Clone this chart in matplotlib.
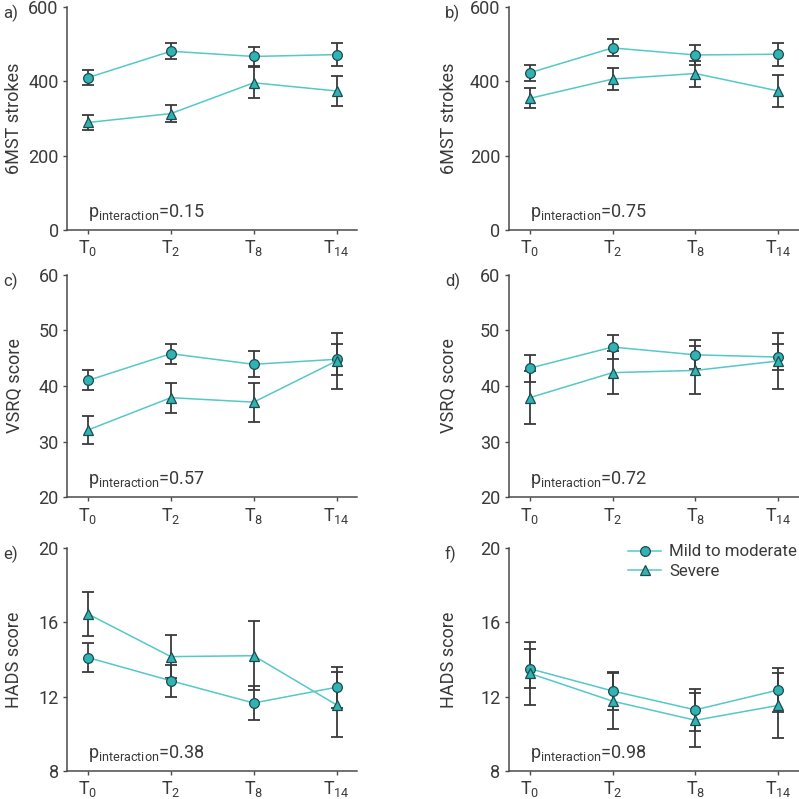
import matplotlib
matplotlib.use("Agg")
import matplotlib.pyplot as plt

plt.rcParams["font.family"] = ["Roboto", "DejaVu Sans"]
plt.rcParams["mathtext.fontset"] = "custom"
plt.rcParams["mathtext.rm"] = "Roboto"

timepoints = ["$\\mathregular{T_0}$", "$\\mathregular{T_2}$", "$\\mathregular{T_8}$", "$\\mathregular{T_{14}}$"]
groups = ["Mild to moderate", "Severe"]

# 6MST strokes
mst_a_mild = [410, 481, 467, 472]
mst_a_mild_err = [20, 21, 26, 32]
mst_a_severe = [289, 313, 396, 374]
mst_a_severe_err = [19, 23, 42, 41]
mst_b_mild = [423, 490, 471, 473]
mst_b_mild_err = [22, 23, 26, 31]
mst_b_severe = [354, 406, 421, 374]
mst_b_severe_err = [27, 29, 35, 42]

# VSRQ score
vsrq_c_mild = [41.0, 45.8, 43.9, 44.8]
vsrq_c_mild_err = [1.8, 1.8, 2.3, 2.8]
vsrq_c_severe = [32.1, 37.9, 37.1, 44.5]
vsrq_c_severe_err = [2.5, 2.7, 3.5, 5.0]
vsrq_d_mild = [43.2, 47.0, 45.6, 45.2]
vsrq_d_mild_err = [2.4, 2.1, 2.6, 2.4]
vsrq_d_severe = [37.9, 42.4, 42.8, 44.5]
vsrq_d_severe_err = [4.8, 3.8, 4.3, 5.1]

# HADS score
hads_e_mild = [14.1, 12.85, 11.65, 12.5]
hads_e_mild_err = [0.8, 0.85, 0.9, 1.1]
hads_e_severe = [16.45, 14.15, 14.2, 11.55]
hads_e_severe_err = [1.2, 1.15, 1.85, 1.75]
hads_f_mild = [13.5, 12.3, 11.28, 12.35]
hads_f_mild_err = [1.05, 1.0, 1.15, 1.2]
hads_f_severe = [13.25, 11.75, 10.72, 11.52]
hads_f_severe_err = [1.7, 1.5, 1.45, 1.75]

p_values = ["0.15", "0.75", "0.57", "0.72", "0.38", "0.98"]

line_col = "#55c8c8"
face_col = "#2fb3b3"
edge_col = "#1d4b4e"
err_col = "#3a3a3a"
text_col = "#3a3a3a"

fig = plt.figure(figsize=(7.99, 7.99), dpi=100)

lefts = [0.0839, 0.6367]
bottoms = [0.7125, 0.3776, 0.0354]
w, h = 0.3635, 0.2786

panels = [
    ("a)", mst_a_mild, mst_a_mild_err, mst_a_severe, mst_a_severe_err, "6MST strokes", (0, 600), [0, 200, 400, 600]),
    ("b)", mst_b_mild, mst_b_mild_err, mst_b_severe, mst_b_severe_err, "6MST strokes", (0, 600), [0, 200, 400, 600]),
    ("c)", vsrq_c_mild, vsrq_c_mild_err, vsrq_c_severe, vsrq_c_severe_err, "VSRQ score", (20, 60), [20, 30, 40, 50, 60]),
    ("d)", vsrq_d_mild, vsrq_d_mild_err, vsrq_d_severe, vsrq_d_severe_err, "VSRQ score", (20, 60), [20, 30, 40, 50, 60]),
    ("e)", hads_e_mild, hads_e_mild_err, hads_e_severe, hads_e_severe_err, "HADS score", (8, 20), [8, 12, 16, 20]),
    ("f)", hads_f_mild, hads_f_mild_err, hads_f_severe, hads_f_severe_err, "HADS score", (8, 20), [8, 12, 16, 20]),
]

label_x = [3 / 799, 445 / 799]
ylabel_x = [-0.150, -0.175]

x = list(range(len(timepoints)))

for i, (lab, m, me, s, se, ylab, ylim, yticks) in enumerate(panels):
    row, col = divmod(i, 2)
    ax = fig.add_axes([lefts[col], bottoms[row], w, h])
    for vals, errs in [(s, se), (m, me)]:
        ax.errorbar(x, vals, yerr=errs, fmt="none", ecolor=err_col, elinewidth=1.3,
                    capsize=4.3, capthick=1.3, zorder=2)
    ax.plot(x, m, color=line_col, lw=1.1, marker="o", ms=7, mfc=face_col,
            mec=edge_col, mew=0.9, label=groups[0], zorder=3)
    ax.plot(x, s, color=line_col, lw=1.1, marker="^", ms=7.5, mfc=face_col,
            mec=edge_col, mew=0.9, label=groups[1], zorder=3)

    ax.set_xlim(-0.253, 3.253)
    ax.set_ylim(*ylim)
    ax.set_xticks(x)
    ax.set_xticklabels(timepoints)
    ax.set_yticks(yticks)
    for side in ["top", "right"]:
        ax.spines[side].set_visible(False)
    for side in ["left", "bottom"]:
        ax.spines[side].set_color("#4a4a4a")
        ax.spines[side].set_linewidth(1.1)
    ax.tick_params(direction="out", length=3, width=1.0, colors="#4a4a4a",
                   labelsize=13, labelcolor=text_col, pad=3)
    ax.set_ylabel(ylab, fontsize=13, color=text_col)
    ax.yaxis.set_label_coords(ylabel_x[col], 0.5)
    ax.text(0.0, 0.058, "$\\mathregular{p_{interaction}}$=" + p_values[i],
            transform=ax.get_xaxis_transform(),
            fontsize=13, color=text_col, ha="left", va="baseline")
    fig.text(label_x[col], bottoms[row] + h + 0.003, lab,
             fontsize=12, color=text_col, ha="left", va="top")

    if lab == "f)":
        ax.legend(loc="upper right", bbox_to_anchor=(1.045, 1.085), frameon=False,
                  fontsize=12.2, handlelength=2.0, handletextpad=0.45,
                  labelspacing=0.25, labelcolor=text_col)

fig.savefig("out.png", dpi=100)
